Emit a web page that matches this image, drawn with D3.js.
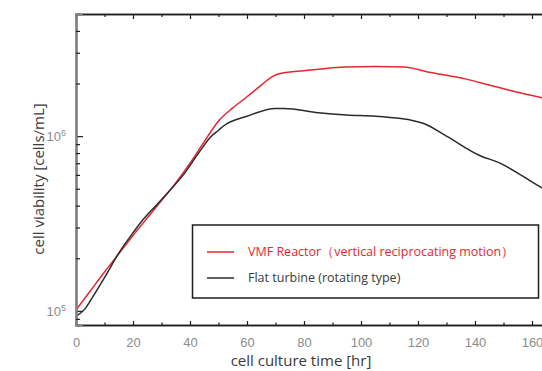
<!DOCTYPE html>
<html lang="en">
<head>
    <meta charset="UTF-8">
    <title>Cell viability</title>
    <script src="https://d3js.org/d3.v7.min.js"></script>
    <style>
        body { margin: 0; background: #fff; }
        svg { display: block; font-family: "Open Sans", "Noto Sans", sans-serif; }
        .tick-label { fill: #8c8c8c; font-size: 13px; }
        .axis-title { fill: #3a3a3a; font-size: 15px; }
        .series { fill: none; stroke-width: 1.5px; }
    </style>
</head>
<body>
<div id="chart"></div>
<script>
// hours vs cells/mL
const vmfHours = [0, 5, 10, 15, 20, 25, 30, 35, 40, 45, 50, 55, 60, 65, 69, 72, 80, 95, 105, 115, 118, 122, 137, 145, 152, 164, 172];
const vmfCells = [1.01e5, 1.3e5, 1.67e5, 2.12e5, 2.7e5, 3.4e5, 4.28e5, 5.4e5, 7.0e5, 9.3e5, 1.22e6, 1.45e6, 1.68e6, 1.96e6, 2.2e6, 2.29e6, 2.37e6, 2.49e6, 2.5e6, 2.49e6, 2.45e6, 2.36e6, 2.12e6, 1.96e6, 1.83e6, 1.65e6, 1.54e6];

const flatHours = [0, 3, 5, 10, 15, 20, 23, 28, 33, 38, 43, 47, 50, 52, 60, 70, 73, 85, 95, 105, 114, 118, 122, 130, 142, 148, 164, 172];
const flatCells = [9.3e4, 1.02e5, 1.14e5, 1.55e5, 2.14e5, 2.8e5, 3.25e5, 4.0e5, 4.9e5, 6.1e5, 8.0e5, 9.8e5, 1.08e6, 1.15e6, 1.3e6, 1.44e6, 1.44e6, 1.36e6, 1.32e6, 1.30e6, 1.26e6, 1.23e6, 1.18e6, 1.0e6, 7.7e5, 7.1e5, 5.0e5, 4.3e5];

const xTicks = [0, 20, 40, 60, 80, 100, 120, 140, 160, 180];
const xMinor = [10, 30, 50, 70, 90, 110, 130, 150, 170];
const yMajor = [1e5, 1e6];
const yMinor = [9e4, 2e5, 3e5, 4e5, 5e5, 6e5, 7e5, 8e5, 9e5, 2e6, 3e6, 4e6];

const seriesNames = ["VMF Reactor（vertical reciprocating motion）", "Flat turbine (rotating type)"];
const seriesColors = ["#e8262f", "#2b2b2b"];

const width = 542, height = 371;
const plot = { left: 76, top: 14, right: 589, bottom: 325 };

const x = d3.scaleLinear().domain([0, 180]).range([plot.left, plot.right]);
const y = d3.scaleLog().domain([8.3e4, 5e6]).range([plot.bottom, plot.top]);

const svg = d3.select("#chart").append("svg")
    .attr("width", width)
    .attr("height", height);

svg.append("clipPath").attr("id", "plotClip")
    .append("rect")
    .attr("x", plot.left).attr("y", plot.top)
    .attr("width", plot.right - plot.left).attr("height", plot.bottom - plot.top);

// lines
const line = d3.line()
    .x(d => x(d[0]))
    .y(d => y(d[1]))
    .curve(d3.curveMonotoneX);

const series = [
    d3.zip(vmfHours, vmfCells),
    d3.zip(flatHours, flatCells)
];

svg.append("g").attr("clip-path", "url(#plotClip)")
    .selectAll("path")
    .data(series)
    .join("path")
    .attr("class", "series")
    .attr("stroke", (d, i) => seriesColors[i])
    .attr("d", line);

// x axes, ticks pointing inward
const xBottom = svg.append("g")
    .attr("transform", `translate(0,${plot.bottom})`)
    .call(d3.axisBottom(x).tickValues(xTicks).tickSize(-4).tickPadding(13));
const xBottomMinor = svg.append("g")
    .attr("transform", `translate(0,${plot.bottom})`)
    .call(d3.axisBottom(x).tickValues(xMinor).tickSize(-2.5).tickFormat(""));
const xTop = svg.append("g")
    .attr("transform", `translate(0,${plot.top})`)
    .call(d3.axisTop(x).tickValues(xTicks).tickSize(-5).tickFormat(""));
const xTopMinor = svg.append("g")
    .attr("transform", `translate(0,${plot.top})`)
    .call(d3.axisTop(x).tickValues(xMinor).tickSize(-3).tickFormat(""));

// y axis
const yAxis = svg.append("g")
    .attr("transform", `translate(${plot.left},0)`)
    .call(d3.axisLeft(y).tickValues(yMajor).tickSize(-7).tickPadding(10)
        .tickFormat(() => ""));
const yAxisMinor = svg.append("g")
    .attr("transform", `translate(${plot.left},0)`)
    .call(d3.axisLeft(y).tickValues(yMinor).tickSize(-4).tickFormat(""));

[xBottom, xBottomMinor, xTop, xTopMinor, yAxis, yAxisMinor].forEach(g => {
    g.select(".domain").attr("stroke", "#1e1e1e").attr("stroke-width", 1.5);
    g.selectAll(".tick line").attr("stroke", "#1e1e1e").attr("stroke-width", 1.2);
    g.selectAll("text").attr("class", "tick-label").attr("font-family", null).attr("font-size", null);
});
yAxis.select(".domain").attr("stroke", "#808080").attr("stroke-width", 2.2);
yAxisMinor.select(".domain").attr("stroke", "#808080").attr("stroke-width", 2.2);

// power-of-ten labels
yAxis.selectAll(".tick text").each(function (d) {
    const t = d3.select(this).text(null).attr("dy", "0.35em");
    t.append("tspan").text("10");
    t.append("tspan").attr("dy", "-0.55em").attr("font-size", "9px").text(Math.round(Math.log10(d)));
});

// axis titles
svg.append("text")
    .attr("class", "axis-title")
    .attr("x", 301).attr("y", 366)
    .attr("text-anchor", "middle")
    .text("cell culture time [hr]");

svg.append("text")
    .attr("class", "axis-title")
    .attr("transform", "translate(44,179) rotate(-90)")
    .attr("text-anchor", "middle")
    .text("cell viability [cells/mL]");

// legend
const legend = svg.append("g");
legend.append("rect")
    .attr("x", 192.5).attr("y", 225)
    .attr("width", 346).attr("height", 73)
    .attr("fill", "#fff")
    .attr("stroke", "#1e1e1e")
    .attr("stroke-width", 1.5);

const legendRows = legend.selectAll("g.row")
    .data(seriesNames)
    .join("g")
    .attr("class", "row")
    .attr("transform", (d, i) => `translate(207,${252 + i * 26})`);

legendRows.append("line")
    .attr("x1", 0).attr("x2", 27)
    .attr("stroke", (d, i) => seriesColors[i])
    .attr("stroke-width", 1.5);

legendRows.append("text")
    .attr("x", 41).attr("dy", "0.35em")
    .attr("font-size", "12.5px")
    .attr("fill", (d, i) => i === 0 ? seriesColors[0] : "#3a3a3a")
    .text(d => d);
</script>
</body>
</html>
